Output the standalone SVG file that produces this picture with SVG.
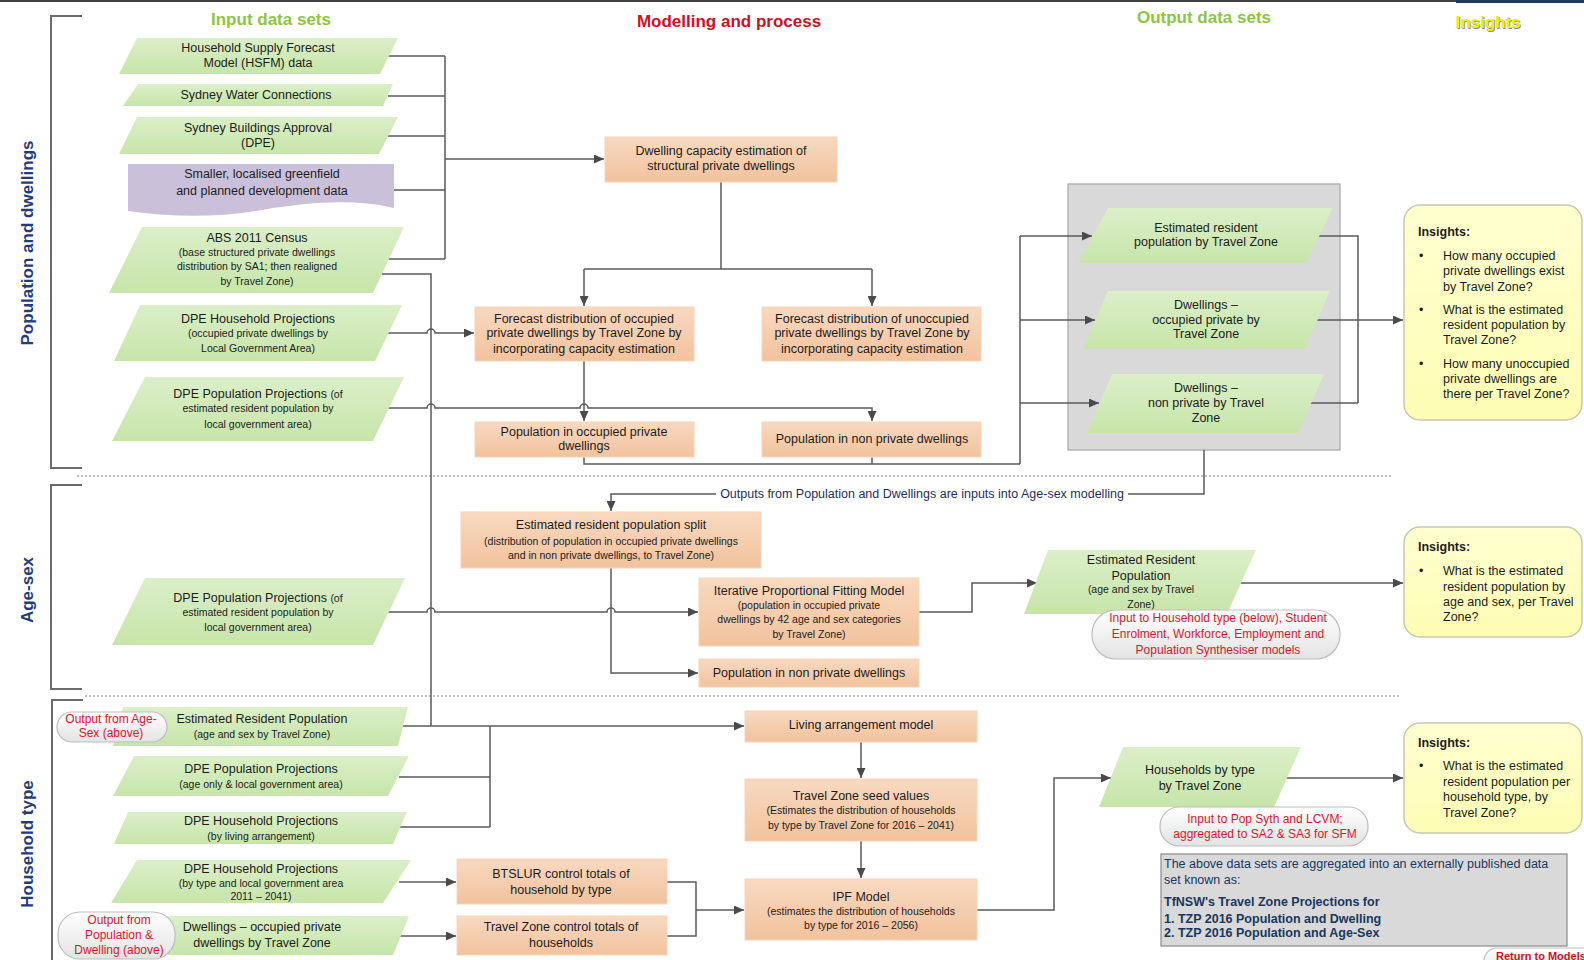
<svg xmlns="http://www.w3.org/2000/svg" width="1584" height="960" viewBox="0 0 1584 960">
  <defs>
    <linearGradient id="gGreen" x1="0" y1="0" x2="0" y2="1">
      <stop offset="0" stop-color="#dbefc8"/>
      <stop offset="1" stop-color="#c7e5a9"/>
    </linearGradient>
    <linearGradient id="gOrange" x1="0" y1="0" x2="0" y2="1">
      <stop offset="0" stop-color="#f8d9c0"/>
      <stop offset="1" stop-color="#f2c29d"/>
    </linearGradient>
    <linearGradient id="gYellow" x1="0" y1="0" x2="0" y2="1">
      <stop offset="0" stop-color="#ffffd0"/>
      <stop offset="1" stop-color="#fdfdb4"/>
    </linearGradient>
    <linearGradient id="gPill" x1="0" y1="0" x2="0" y2="1">
      <stop offset="0" stop-color="#ffffff"/>
      <stop offset="1" stop-color="#e3e3e3"/>
    </linearGradient>
    <marker id="arr" viewBox="0 0 10 9" refX="10" refY="4.5" markerWidth="10" markerHeight="9" markerUnits="userSpaceOnUse" orient="auto">
      <path d="M0,0 L10,4.5 L0,9 Z" fill="#4a4a4a"/>
    </marker>
    <style>
      text { font-family: "Liberation Sans", Arial, sans-serif; }
      .t { font-size: 12.5px; fill: #1c1c1c; text-anchor: middle; }
      .s { font-size: 10.5px; }
      .red { font-size: 12px; fill: #e0142c; text-anchor: middle; }
      .ins { font-size: 12.5px; fill: #1c1c1c; }
      .insh { font-size: 12.5px; fill: #1c1c1c; font-weight: bold; }
      .hdr { font-size: 17px; font-weight: bold; text-anchor: middle; }
      .sec { font-size: 17px; font-weight: bold; fill: #1f3d7a; text-anchor: middle; }
      .para { fill: url(#gGreen); }
      .box { fill: url(#gOrange); stroke: #f7d4b8; stroke-width: 1; }
      .insight { fill: url(#gYellow); stroke: #c8c8b0; stroke-width: 1.5; }
      .pill { fill: url(#gPill); stroke: #bdbdbd; stroke-width: 1.2; }
      .ln { fill: none; stroke: #5a5a5a; stroke-width: 1.5; }
      .arw { fill: none; stroke: #5a5a5a; stroke-width: 1.5; marker-end: url(#arr); }
      .brk { fill: none; stroke: #6b6b6b; stroke-width: 2; }
      .dot { fill: none; stroke: #a8a8a8; stroke-width: 1.5; stroke-dasharray: 2 2; }
    </style>
  </defs>

  <rect width="1584" height="960" fill="#ffffff"/>

  <!-- page frame -->
  <path d="M0,1 H1456" stroke="#404040" stroke-width="2"/>
  <rect x="1456" y="0" width="128" height="3" fill="#1f3864"/>

  <!-- column headings -->
  <text class="hdr" x="271" y="25" fill="#8cc63f">Input data sets</text>
  <text class="hdr" x="729" y="27" fill="#d0101e">Modelling and process</text>
  <text class="hdr" x="1204" y="23" fill="#8cc63f">Output data sets</text>
  <text class="hdr" x="1489" y="29" fill="#8a8a8a" font-weight="normal">Insights</text>
  <text class="hdr" x="1488" y="28" fill="#f0f000" font-weight="normal">Insights</text>

  <!-- section brackets and labels -->
  <path class="brk" d="M82,16 H51 V468 H82"/>
  <path class="brk" d="M82,485 H51 V689 H82"/>
  <path class="brk" d="M83,700 H52 V960"/>
  <text class="sec" transform="translate(33,243) rotate(-90)">Population and dwellings</text>
  <text class="sec" transform="translate(33,590) rotate(-90)">Age-sex</text>
  <text class="sec" transform="translate(33,844) rotate(-90)">Household type</text>

  <!-- section separators -->
  <path class="dot" d="M77,476 H1391"/>
  <path class="dot" d="M85,696 H1400"/>

  <!-- output container -->
  <rect id="output-group" x="1068" y="184" width="272" height="266" fill="#d9d9d9" stroke="#a6a6a6" stroke-width="1.2"/>

  <!-- connectors -->
  <g id="connectors">
    <path class="ln" d="M388,56 H445 M388,96 H445 M388,136 H445 M394,190 H445 M388,259 H445 M445,56 V259"/>
    <path class="arw" d="M445,159 H604"/>
    <path class="ln" d="M721,182 V269 M584,269 H872"/>
    <path class="arw" d="M584,269 V306"/>
    <path class="arw" d="M872,269 V306"/>
    <path class="ln" d="M382,274 H431 V726"/>
    <path class="arw" d="M388,333 H427 A4,4 0 0 1 435,333 H474"/>
    <path class="arw" d="M388,408 H427 A4,4 0 0 1 435,408 H580 A4,4 0 0 1 588,408 H872 V421"/>
    <path class="arw" d="M584,361 V421"/>
    <path class="ln" d="M584,457 V464 H1020 M872,457 V464 M1020,464 V236"/>
    <path class="arw" d="M1020,236 H1092"/>
    <path class="arw" d="M1020,320 H1095"/>
    <path class="arw" d="M1020,403 H1099"/>
    <path class="ln" d="M1319,236 H1358 V403 M1315,320 H1358 M1310,403 H1358"/>
    <path class="arw" d="M1358,320 H1403"/>
    <path class="ln" d="M1204,450 V494 H1128"/>
    <path class="arw" d="M716,494 H611 V511"/>
    <path class="arw" d="M611,568 V673 H698"/>
    <path class="arw" d="M388,612 H427 A4,4 0 0 1 435,612 H607 A4,4 0 0 1 615,612 H698"/>
    <path class="arw" d="M919,612 H972 V583 H1037"/>
    <path class="arw" d="M1240,583 H1403"/>
    <path class="arw" d="M398,726 H744"/>
    <path class="ln" d="M490,726 V827 M399,777 H490 M400,827 H490"/>
    <path class="arw" d="M399,882 H456"/>
    <path class="arw" d="M399,936 H456"/>
    <path class="ln" d="M667,882 H696 V936 H667"/>
    <path class="arw" d="M696,910 H744"/>
    <path class="arw" d="M861,742 V778"/>
    <path class="arw" d="M861,841 V878"/>
    <path class="arw" d="M977,910 H1054 V778 H1111"/>
    <path class="arw" d="M1286,778 H1403"/>
    <text x="922" y="498" font-size="12.5" fill="#1f2d5a" text-anchor="middle">Outputs from Population and Dwellings are inputs into Age-sex modelling</text>
  </g>

  <!-- input data sets: population and dwellings -->
  <g id="in-hsfm">
    <polygon class="para" points="137,38 398,38 380,74 119,74"/>
    <text class="t" x="258" y="52">Household Supply Forecast</text>
    <text class="t" x="258" y="67">Model (HSFM) data</text>
  </g>
  <g id="in-water">
    <polygon class="para" points="138,84 393,84 383,106 123,106"/>
    <text class="t" x="256" y="99">Sydney Water Connections</text>
  </g>
  <g id="in-approvals">
    <polygon class="para" points="137,117 398,117 379,154 119,154"/>
    <text class="t" x="258" y="132">Sydney Buildings Approval</text>
    <text class="t" x="258" y="147">(DPE)</text>
  </g>
  <g id="in-greenfield">
    <path d="M128,164 H394 V208 C350,198 305,203 262,210 C215,218 170,217 128,211 Z" fill="#cbc0da"/>
    <text class="t" x="262" y="178" font-size="14.5">Smaller, localised greenfield</text>
    <text class="t" x="262" y="195" font-size="14.5">and planned development data</text>
  </g>
  <g id="in-census">
    <polygon class="para" points="142,227 404,227 373,293 109,293"/>
    <text class="t" x="257" y="242">ABS 2011 Census</text>
    <text class="t s" x="257" y="256">(base structured private dwellings</text>
    <text class="t s" x="257" y="270">distribution by SA1; then realigned</text>
    <text class="t s" x="257" y="285">by Travel Zone)</text>
  </g>
  <g id="in-dpe-hh">
    <polygon class="para" points="140,305 402,305 375,361 114,361"/>
    <text class="t" x="258" y="323">DPE Household Projections</text>
    <text class="t s" x="258" y="337">(occupied private dwellings by</text>
    <text class="t s" x="258" y="352">Local Government Area)</text>
  </g>
  <g id="in-dpe-pop">
    <polygon class="para" points="145,377 404,377 373,441 112,441"/>
    <text class="t" x="258" y="398">DPE Population Projections <tspan class="s">(of</tspan></text>
    <text class="t s" x="258" y="412">estimated resident population by</text>
    <text class="t s" x="258" y="428">local government area)</text>
  </g>

  <!-- modelling: population and dwellings -->
  <g id="m-capacity">
    <rect class="box" x="605" y="137" width="232" height="45"/>
    <text class="t" x="721" y="155">Dwelling capacity estimation of</text>
    <text class="t" x="721" y="170">structural private dwellings</text>
  </g>
  <g id="m-occupied">
    <rect class="box" x="475" y="307" width="219" height="54"/>
    <text class="t" x="584" y="323">Forecast distribution of occupied</text>
    <text class="t" x="584" y="337">private dwellings by Travel Zone by</text>
    <text class="t" x="584" y="353">incorporating capacity estimation</text>
  </g>
  <g id="m-unoccupied">
    <rect class="box" x="762" y="307" width="219" height="54"/>
    <text class="t" x="872" y="323">Forecast distribution of unoccupied</text>
    <text class="t" x="872" y="337">private dwellings by Travel Zone by</text>
    <text class="t" x="872" y="353">incorporating capacity estimation</text>
  </g>
  <g id="m-pop-occupied">
    <rect class="box" x="475" y="422" width="219" height="35"/>
    <text class="t" x="584" y="436">Population in occupied private</text>
    <text class="t" x="584" y="450">dwellings</text>
  </g>
  <g id="m-pop-nonprivate">
    <rect class="box" x="762" y="422" width="219" height="35"/>
    <text class="t" x="872" y="443">Population in non private dwellings</text>
  </g>

  <!-- outputs: population and dwellings -->
  <g id="out-erp">
    <polygon class="para" points="1108,208 1333,208 1306,263 1078,263"/>
    <text class="t" x="1206" y="232">Estimated resident</text>
    <text class="t" x="1206" y="246">population by Travel Zone</text>
  </g>
  <g id="out-occupied">
    <polygon class="para" points="1108,291 1330,291 1305,349 1083,349"/>
    <text class="t" x="1206" y="309">Dwellings –</text>
    <text class="t" x="1206" y="324">occupied private by</text>
    <text class="t" x="1206" y="338">Travel Zone</text>
  </g>
  <g id="out-nonprivate">
    <polygon class="para" points="1112,374 1324,374 1298,433 1087,433"/>
    <text class="t" x="1206" y="392">Dwellings –</text>
    <text class="t" x="1206" y="407">non private by Travel</text>
    <text class="t" x="1206" y="422">Zone</text>
  </g>

  <g id="insights-dwellings">
    <rect class="insight" x="1404" y="205" width="178" height="215" rx="16"/>
    <text class="insh" x="1418" y="236">Insights:</text>
    <text class="ins" x="1419" y="260">•</text>
    <text class="ins" x="1443" y="260">How many occupied</text>
    <text class="ins" x="1443" y="275">private dwellings exist</text>
    <text class="ins" x="1443" y="291">by Travel Zone?</text>
    <text class="ins" x="1419" y="314">•</text>
    <text class="ins" x="1443" y="314">What is the estimated</text>
    <text class="ins" x="1443" y="329">resident population by</text>
    <text class="ins" x="1443" y="344">Travel Zone?</text>
    <text class="ins" x="1419" y="368">•</text>
    <text class="ins" x="1443" y="368">How many unoccupied</text>
    <text class="ins" x="1443" y="383">private dwellings are</text>
    <text class="ins" x="1443" y="398">there per Travel Zone?</text>
  </g>

  <!-- age-sex -->
  <g id="m-erp-split">
    <rect class="box" x="461" y="512" width="300" height="56"/>
    <text class="t" x="611" y="529">Estimated resident population split</text>
    <text class="t s" x="611" y="545">(distribution of population in occupied private dwellings</text>
    <text class="t s" x="611" y="559">and in non private dwellings, to Travel Zone)</text>
  </g>
  <g id="in-dpe-pop-agesex">
    <polygon class="para" points="145,578 405,578 373,645 112,645"/>
    <text class="t" x="258" y="602">DPE Population Projections <tspan class="s">(of</tspan></text>
    <text class="t s" x="258" y="616">estimated resident population by</text>
    <text class="t s" x="258" y="631">local government area)</text>
  </g>
  <g id="m-ipf-agesex">
    <rect class="box" x="699" y="578" width="220" height="68"/>
    <text class="t" x="809" y="595">Iterative Proportional Fitting Model</text>
    <text class="t s" x="809" y="609">(population in occupied private</text>
    <text class="t s" x="809" y="623">dwellings by 42 age and sex categories</text>
    <text class="t s" x="809" y="638">by Travel Zone)</text>
  </g>
  <g id="m-nonprivate-agesex">
    <rect class="box" x="699" y="659" width="220" height="28"/>
    <text class="t" x="809" y="677">Population in non private dwellings</text>
  </g>
  <g id="out-erp-agesex">
    <polygon class="para" points="1048,550 1256,550 1227,614 1024,614"/>
    <text class="t" x="1141" y="564">Estimated Resident</text>
    <text class="t" x="1141" y="580">Population</text>
    <text class="t s" x="1141" y="593">(age and sex by Travel</text>
    <text class="t s" x="1141" y="608">Zone)</text>
  </g>
  <g id="note-agesex">
    <rect class="pill" x="1092" y="610" width="248" height="49" rx="24"/>
    <text class="red" x="1218" y="622">Input to Household type (below), Student</text>
    <text class="red" x="1218" y="638">Enrolment, Workforce, Employment and</text>
    <text class="red" x="1218" y="654">Population Synthesiser models</text>
  </g>
  <g id="insights-agesex">
    <rect class="insight" x="1404" y="527" width="178" height="110" rx="16"/>
    <text class="insh" x="1418" y="551">Insights:</text>
    <text class="ins" x="1419" y="575">•</text>
    <text class="ins" x="1443" y="575">What is the estimated</text>
    <text class="ins" x="1443" y="591">resident population by</text>
    <text class="ins" x="1443" y="606">age and sex, per Travel</text>
    <text class="ins" x="1443" y="621">Zone?</text>
  </g>

  <!-- household type -->
  <g id="in-erp-hh">
    <polygon class="para" points="123,707 408,707 398,746 113,746"/>
    <text class="t" x="262" y="723">Estimated Resident Population</text>
    <text class="t s" x="262" y="738">(age and sex by Travel Zone)</text>
  </g>
  <g id="note-from-agesex">
    <rect class="pill" x="57" y="712" width="110" height="30" rx="15"/>
    <text class="red" x="111" y="723">Output from Age-</text>
    <text class="red" x="111" y="737">Sex (above)</text>
  </g>
  <g id="in-dpe-pop-age">
    <polygon class="para" points="134,756 409,756 388,796 113,796"/>
    <text class="t" x="261" y="773">DPE Population Projections</text>
    <text class="t s" x="261" y="788">(age only &amp; local government area)</text>
  </g>
  <g id="in-dpe-hh-living">
    <polygon class="para" points="128,812 407,812 393,844 114,844"/>
    <text class="t" x="261" y="825">DPE Household Projections</text>
    <text class="t s" x="261" y="840">(by living arrangement)</text>
  </g>
  <g id="in-dpe-hh-type">
    <polygon class="para" points="137,860 411,860 383,903 111,903"/>
    <text class="t" x="261" y="873">DPE Household Projections</text>
    <text class="t s" x="261" y="887">(by type and local government area</text>
    <text class="t s" x="261" y="900">2011 – 2041)</text>
  </g>
  <g id="in-dwellings-hh">
    <polygon class="para" points="133,916 409,916 393,955 117,955"/>
    <text class="t" x="262" y="931">Dwellings – occupied private</text>
    <text class="t" x="262" y="947">dwellings by Travel Zone</text>
  </g>
  <g id="note-from-dwellings">
    <rect class="pill" x="58" y="912" width="117" height="47" rx="22"/>
    <text class="red" x="119" y="924">Output from</text>
    <text class="red" x="119" y="939">Population &amp;</text>
    <text class="red" x="119" y="954">Dwelling (above)</text>
  </g>
  <g id="m-btslur">
    <rect class="box" x="457" y="859" width="210" height="45"/>
    <text class="t" x="561" y="878">BTSLUR control totals of</text>
    <text class="t" x="561" y="894">household by type</text>
  </g>
  <g id="m-tz-control">
    <rect class="box" x="457" y="916" width="210" height="39"/>
    <text class="t" x="561" y="931">Travel Zone control totals of</text>
    <text class="t" x="561" y="947">households</text>
  </g>
  <g id="m-living">
    <rect class="box" x="745" y="711" width="232" height="31"/>
    <text class="t" x="861" y="729">Living arrangement model</text>
  </g>
  <g id="m-seed">
    <rect class="box" x="745" y="779" width="232" height="62"/>
    <text class="t" x="861" y="800">Travel Zone seed values</text>
    <text class="t s" x="861" y="814">(Estimates the distribution of households</text>
    <text class="t s" x="861" y="829">by type by Travel Zone for 2016 – 2041)</text>
  </g>
  <g id="m-ipf-hh">
    <rect class="box" x="745" y="879" width="232" height="61"/>
    <text class="t" x="861" y="901">IPF Model</text>
    <text class="t s" x="861" y="915">(estimates the distribution of households</text>
    <text class="t s" x="861" y="929">by type for 2016 – 2056)</text>
  </g>
  <g id="out-hh-type">
    <polygon class="para" points="1123,747 1301,747 1274,807 1099,807"/>
    <text class="t" x="1200" y="774">Households by type</text>
    <text class="t" x="1200" y="790">by Travel Zone</text>
  </g>
  <g id="note-hh-type">
    <rect class="pill" x="1160" y="807" width="208" height="39" rx="19"/>
    <text class="red" x="1265" y="823">Input to Pop Syth and LCVM;</text>
    <text class="red" x="1265" y="838">aggregated to SA2 &amp; SA3 for SFM</text>
  </g>
  <g id="insights-hh">
    <rect class="insight" x="1404" y="723" width="178" height="110" rx="16"/>
    <text class="insh" x="1418" y="747">Insights:</text>
    <text class="ins" x="1419" y="770">•</text>
    <text class="ins" x="1443" y="770">What is the estimated</text>
    <text class="ins" x="1443" y="786">resident population per</text>
    <text class="ins" x="1443" y="801">household type, by</text>
    <text class="ins" x="1443" y="817">Travel Zone?</text>
  </g>

  <!-- published data set note -->
  <g id="published">
    <rect x="1161" y="854" width="406" height="92" fill="#d9d9d9" stroke="#8a8a8a" stroke-width="1.2"/>
    <text x="1164" y="868" font-size="12.5" fill="#17375e">The above data sets are aggregated into an externally published data</text>
    <text x="1164" y="884" font-size="12.5" fill="#17375e">set known as:</text>
    <text x="1164" y="906" font-size="12.5" font-weight="bold" fill="#17375e">TfNSW's Travel Zone Projections for</text>
    <text x="1164" y="923" font-size="12.5" font-weight="bold" fill="#17375e">1. TZP 2016 Population and Dwelling</text>
    <text x="1164" y="937" font-size="12.5" font-weight="bold" fill="#17375e">2. TZP 2016 Population and Age-Sex</text>
  </g>

  <g id="return-link">
    <rect class="pill" x="1484" y="948" width="130" height="28" rx="13"/>
    <text x="1496" y="960" font-size="11" font-weight="bold" fill="#d0101e">Return to Models</text>
  </g>
</svg>
